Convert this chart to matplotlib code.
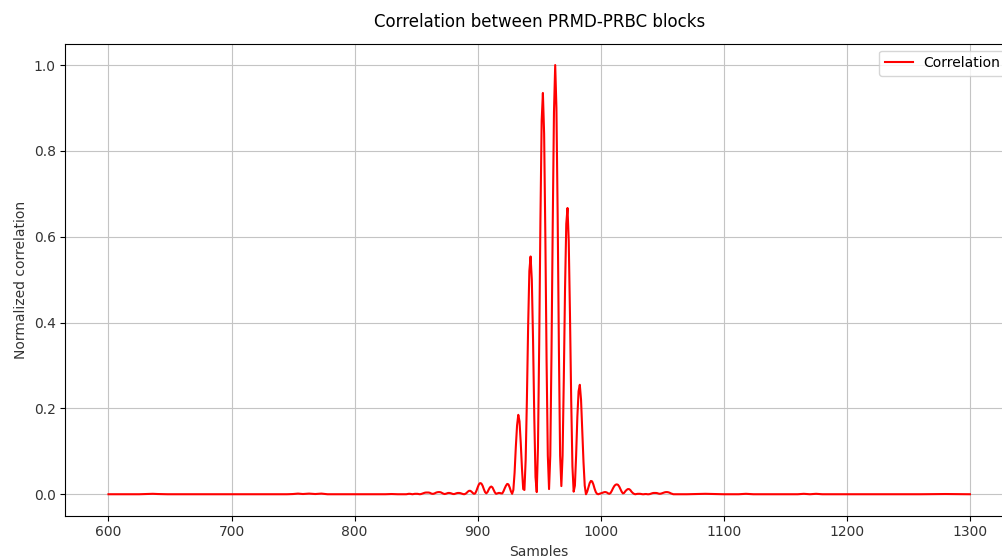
import numpy as np
import matplotlib
matplotlib.use("Agg")
import matplotlib.pyplot as plt

# ---- data ----
tail_left_x = [600, 615, 625, 632, 636, 640, 648, 680, 720, 745, 750, 754, 758,
               763, 768, 773, 778, 790, 810, 825, 830, 835, 840]
tail_left_y = [0, 0, 0, 0.0005, 0.001, 0.0005, 0, 0, 0, 0, 0.0005, 0.0015, 0.0005,
               0.0015, 0.0005, 0.0015, 0, 0, 0, 0, 0.0005, 0, 0]

core_start = 841
core_y = [
    0, 0, 0.0005, 0.001, 0.001, 0.0005, 0, 0.0005, 0.001, 0.001,                      # 841-850
    0.001, 0.0005, 0, 0.0005, 0.0015, 0.0025, 0.0035, 0.004, 0.004, 0.004,            # 851-860
    0.0035, 0.002, 0.001, 0.001, 0.002, 0.0035, 0.0045, 0.005, 0.005, 0.0045,         # 861-870
    0.003, 0.0015, 0.0005, 0.001, 0.002, 0.003, 0.003, 0.0025, 0.0015, 0.0005,        # 871-880
    0.0005, 0.0015, 0.0025, 0.003, 0.003, 0.0025, 0.0015, 0.0005, 0.0, 0.001,         # 881-890
    0.003, 0.006, 0.008, 0.008, 0.006, 0.003, 0.001, 0.002, 0.008, 0.016,             # 891-900
    0.023, 0.026, 0.025, 0.02, 0.012, 0.005, 0.002, 0.005, 0.011, 0.016,              # 901-910
    0.018, 0.016, 0.01, 0.004, 0.001, 0.002, 0.003, 0.003, 0.002, 0.002,              # 911-920
    0.007, 0.014, 0.02, 0.024, 0.023, 0.016, 0.007, 0.001, 0.01, 0.05,                # 921-930
    0.11, 0.16, 0.185, 0.17, 0.12, 0.06, 0.012, 0.01, 0.08, 0.22,                     # 931-940
    0.39, 0.52, 0.554, 0.50, 0.36, 0.18, 0.04, 0.005, 0.11, 0.35,                     # 941-950
    0.64, 0.87, 0.935, 0.84, 0.60, 0.31, 0.09, 0.012, 0.09, 0.33,                     # 951-960
    0.63, 0.89, 1.0, 0.90, 0.65, 0.34, 0.09, 0.019, 0.09, 0.27,                       # 961-970
    0.48, 0.63, 0.667, 0.59, 0.42, 0.22, 0.065, 0.006, 0.02, 0.09,                    # 971-980
    0.18, 0.24, 0.255, 0.22, 0.15, 0.075, 0.02, 0.0, 0.006, 0.016,                    # 981-990
    0.026, 0.031, 0.03, 0.023, 0.013, 0.005, 0.001, 0.0, 0.001, 0.002,                # 991-1000
    0.003, 0.004, 0.005, 0.005, 0.004, 0.002, 0.001, 0.003, 0.008, 0.014,             # 1001-1010
    0.019, 0.022, 0.023, 0.022, 0.018, 0.012, 0.006, 0.002, 0.003, 0.007,             # 1011-1020
    0.01, 0.012, 0.012, 0.01, 0.006, 0.003, 0.001, 0.0, 0.0005, 0.001,                # 1021-1030
    0.001, 0.001, 0.0005, 0, 0, 0.0005, 0.0005, 0, 0, 0.0005,                         # 1031-1040
    0.0015, 0.0025, 0.003, 0.003, 0.003, 0.0025, 0.0015, 0.001, 0.0015, 0.0025,       # 1041-1050
    0.0035, 0.0045, 0.005, 0.005, 0.0045, 0.0035, 0.002, 0.001, 0.0, 0.0,             # 1051-1060
]

tail_right_x = [1065, 1070, 1078, 1085, 1092, 1100, 1112, 1118, 1124, 1135, 1150,
                1160, 1165, 1170, 1175, 1180, 1200, 1230, 1260, 1280, 1300]
tail_right_y = [0, 0, 0.0005, 0.001, 0.0005, 0, 0, 0.001, 0, 0, 0,
                0, 0.001, 0, 0.001, 0, 0, 0, 0, 0.0005, 0]

title = "Correlation between PRMD-PRBC blocks"
xlabel = "Samples"
ylabel = "Normalized correlation"
legend_label = "Correlation"

# ---- assemble ----
core_x = list(range(core_start, core_start + len(core_y)))
x = np.array(tail_left_x + core_x + tail_right_x, dtype=float)
y = np.array(tail_left_y + core_y + tail_right_y, dtype=float)

W, H = 1003, 556
fig = plt.figure(figsize=(W / 100, H / 100), dpi=100)
left, right, top, bottom = 65.4, 1013.0, 43.6, 515.7
ax = fig.add_axes([left / W, (H - bottom) / H, (right - left) / W, (bottom - top) / H])

ax.plot(x, y, color="red", linewidth=1.5, label=legend_label)
ax.set_xlim(565, 1335)
ax.set_ylim(-0.05, 1.05)
ax.set_xticks([600, 700, 800, 900, 1000, 1100, 1200, 1300])
ax.set_yticks([0.0, 0.2, 0.4, 0.6, 0.8, 1.0])
ax.grid(True, color="#c4c4c4")
ax.tick_params(labelcolor="#333333")
ax.set_title(title, fontsize=12, pad=12)
ax.set_xlabel(xlabel, color="#333333")
ax.set_ylabel(ylabel, color="#333333")
ax.legend(loc="upper right")

fig.savefig("out.png", dpi=100)
